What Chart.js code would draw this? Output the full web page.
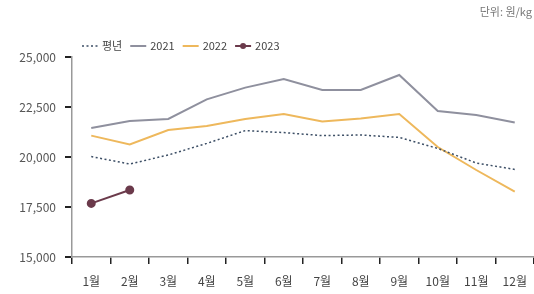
<!DOCTYPE html>
<html>
<head>
<meta charset="utf-8">
<script src="https://cdn.jsdelivr.net/npm/chart.js@4.4.1/dist/chart.umd.min.js"></script>
<style>
  html, body { margin: 0; padding: 0; background: #fff; }
  #wrap { position: relative; width: 534px; height: 294px; }
</style>
</head>
<body>
<div id="wrap"><canvas id="chart" width="534" height="294"></canvas></div>
<script>
const months = ["1월", "2월", "3월", "4월", "5월", "6월", "7월", "8월", "9월", "10월", "11월", "12월"];
const normalYear = [20020, 19650, 20100, 20680, 21320, 21220, 21070, 21100, 20980, 20430, 19700, 19380];
const y2021 = [21450, 21800, 21900, 22880, 23470, 23900, 23350, 23350, 24100, 22300, 22100, 21730];
const y2022 = [21070, 20630, 21350, 21550, 21900, 22150, 21770, 21930, 22150, 20500, 19350, 18270];
const y2023 = [17680, 18350];
const seriesNames = ["평년", "2021", "2022", "2023"];
const unitText = "단위: 원/kg";

const FONT = "'Noto Sans CJK KR', 'Noto Sans', sans-serif";
const colors = ["#3d4f66", "#8f909e", "#eeb85c", "#6b3a4b"];

// legend + unit label drawn by hand (dotted sample and line-with-dot sample)
const legendPlugin = {
  id: 'handLegend',
  afterDraw(chart) {
    const ctx = chart.ctx;
    ctx.save();
    ctx.font = "11px " + FONT;
    ctx.textBaseline = 'middle';
    ctx.fillStyle = '#777';
    ctx.textAlign = 'right';
    ctx.fillText(unitText, 532, 12);

    ctx.textAlign = 'left';
    const y = 46;
    let x = 82;
    seriesNames.forEach((name, i) => {
      ctx.strokeStyle = colors[i];
      ctx.lineWidth = i === 0 ? 1.5 : 2;
      ctx.setLineDash(i === 0 ? [2, 2.5] : []);
      ctx.beginPath();
      ctx.moveTo(x, y);
      ctx.lineTo(x + 16, y);
      ctx.stroke();
      ctx.setLineDash([]);
      if (i === 3) {
        ctx.fillStyle = colors[i];
        ctx.beginPath();
        ctx.arc(x + 8, y, 3, 0, Math.PI * 2);
        ctx.fill();
      }
      ctx.fillStyle = '#444';
      ctx.fillText(name, x + 20, y);
      x += 20 + ctx.measureText(name).width + 8;
    });
    ctx.restore();
  }
};

new Chart(document.getElementById('chart'), {
  type: 'line',
  data: {
    labels: months,
    datasets: [
      {
        label: seriesNames[0],
        data: normalYear,
        borderColor: colors[0],
        borderWidth: 1.5,
        borderDash: [2, 2.5],
        pointRadius: 0,
        tension: 0
      },
      {
        label: seriesNames[1],
        data: y2021,
        borderColor: colors[1],
        borderWidth: 2,
        pointRadius: 0,
        tension: 0
      },
      {
        label: seriesNames[2],
        data: y2022,
        borderColor: colors[2],
        borderWidth: 2,
        pointRadius: 0,
        tension: 0
      },
      {
        label: seriesNames[3],
        data: y2023,
        borderColor: colors[3],
        backgroundColor: colors[3],
        borderWidth: 2,
        pointRadius: 3.5,
        tension: 0
      }
    ]
  },
  options: {
    responsive: false,
    animation: false,
    layout: { autoPadding: false, padding: { top: 57, right: 0, left: 0, bottom: 0 } },
    plugins: {
      legend: { display: false },
      tooltip: { enabled: false }
    },
    scales: {
      x: {
        offset: true,
        grid: {
          offset: true,
          drawOnChartArea: false,
          drawTicks: true,
          tickLength: 7,
          color: '#222',
          lineWidth: 1.5
        },
        border: { color: '#999', width: 1.5 },
        ticks: {
          color: '#444',
          padding: 10,
          maxRotation: 0,
          autoSkip: false,
          font: { family: FONT, size: 12 }
        },
        afterFit(scale) {
          scale.height = 37;
          // let the last category run to the canvas edge
          scale.paddingRight = 0;
          scale.paddingLeft = 0;
        }
      },
      y: {
        min: 15000,
        max: 25000,
        ticks: {
          stepSize: 2500,
          color: '#555',
          padding: 9,
          font: { family: FONT, size: 12 }
        },
        grid: {
          drawOnChartArea: false,
          drawTicks: true,
          tickLength: 7,
          color: '#222',
          lineWidth: 2
        },
        border: { color: '#999', width: 1.5 },
        afterFit(scale) { scale.width = 72; }
      }
    }
  },
  plugins: [legendPlugin]
});
</script>
</body>
</html>
